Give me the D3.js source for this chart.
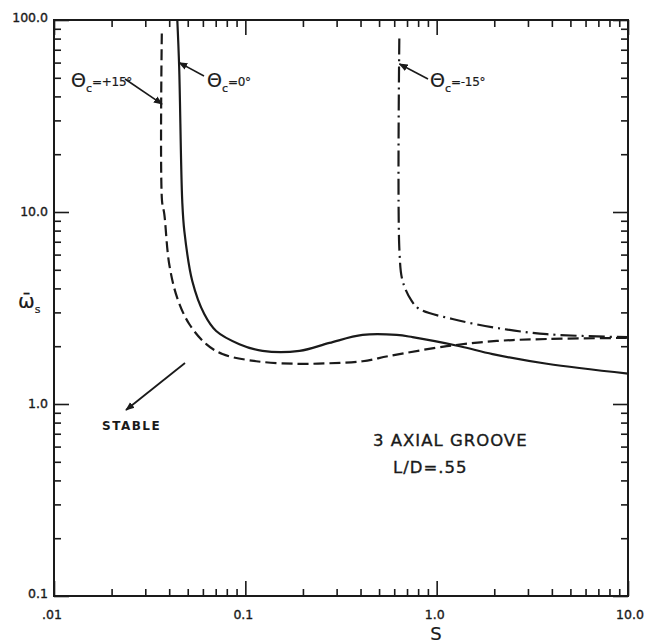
<!DOCTYPE html>
<html>
<head>
<meta charset="utf-8">
<script src="https://cdn.jsdelivr.net/npm/d3@7"></script>
<style>
  body { margin: 0; background: #fff; }
  svg { display: block; }
  .lbl { font-family: 'DejaVu Sans', sans-serif; fill: #1a1a1a; stroke: #1a1a1a; stroke-width: 0.35px; }
  .axis path { stroke: none; }
  .axis line { stroke: #1a1a1a; stroke-width: 1.6px; }
</style>
</head>
<body>
<div id="chart"></div>
<script>
// curves (S, omega_s)
const solidS = [0.0441, 0.0451, 0.0468, 0.048, 0.0528, 0.061, 0.0704, 0.0931, 0.123, 0.192, 0.275, 0.41, 0.618, 0.748, 1.32, 1.96, 3.77, 10];
const solidW = [100, 56.9, 11.4, 7.96, 4.37, 2.94, 2.40, 2.05, 1.89, 1.89, 2.08, 2.29, 2.29, 2.23, 2.0, 1.82, 1.62, 1.44];

const dashedS = [0.0366, 0.0367, 0.0377, 0.040, 0.0441, 0.0509, 0.0625, 0.0759, 0.114, 0.185, 0.275, 0.41, 0.567, 1.13, 2.06, 3.77, 10];
const dashedW = [85, 11.4, 9.77, 5.36, 3.56, 2.61, 2.05, 1.82, 1.67, 1.62, 1.63, 1.67, 1.78, 2.0, 2.13, 2.18, 2.21];

const dashDotS = [0.638, 0.639, 0.664, 0.74, 0.814, 1.21, 2.06, 3.77, 10];
const dashDotW = [80, 6.26, 4.37, 3.44, 3.12, 2.77, 2.49, 2.31, 2.23];

const xTickLabels = ['.01', '0.1', '1.0', '10.0'];
const xMajor = [0.01, 0.1, 1, 10];
const yTickLabels = ['0.1', '1.0', '10.0', '100.0'];
const yMajor = [0.1, 1, 10, 100];

const width = 655, height = 643;
const margin = { top: 20, right: 27, bottom: 47, left: 54 };

const x = d3.scaleLog().domain([0.01, 10]).range([margin.left, width - margin.right]);
const y = d3.scaleLog().domain([0.1, 100]).range([height - margin.bottom, margin.top]);

const svg = d3.select('#chart').append('svg')
  .attr('width', width)
  .attr('height', height);

svg.append('defs').append('marker')
  .attr('id', 'arr')
  .attr('viewBox', '0 0 10 10')
  .attr('refX', 9).attr('refY', 5)
  .attr('markerWidth', 9).attr('markerHeight', 9)
  .attr('markerUnits', 'userSpaceOnUse')
  .attr('orient', 'auto')
  .append('path').attr('d', 'M0,1 L10,5 L0,9 Z').attr('fill', '#1a1a1a');

const isMajor = v => Math.abs(Math.log10(v) - Math.round(Math.log10(v))) < 1e-6;
const xt = x.ticks();
const yt = y.ticks();

// frame
svg.append('rect')
  .attr('x', x.range()[0]).attr('y', y.range()[1])
  .attr('width', x.range()[1] - x.range()[0])
  .attr('height', y.range()[0] - y.range()[1])
  .attr('fill', 'none').attr('stroke', '#1a1a1a').attr('stroke-width', 2);

function sizeTicks(g, sign) {
  g.selectAll('.tick line').each(function(d) {
    const len = isMajor(d) ? 15 : 7;
    const el = d3.select(this);
    if (el.attr('x2') !== null && +el.attr('x2') !== 0) el.attr('x2', sign * len);
    else el.attr('y2', sign * len);
  });
  g.selectAll('.tick text').remove();
}

svg.append('g').attr('class', 'axis')
  .attr('transform', `translate(0,${y.range()[0]})`)
  .call(d3.axisBottom(x).tickValues(xt).tickSize(-7))
  .call(g => sizeTicks(g, -1));
svg.append('g').attr('class', 'axis')
  .attr('transform', `translate(0,${y.range()[1]})`)
  .call(d3.axisTop(x).tickValues(xt).tickSize(-7))
  .call(g => sizeTicks(g, 1));
svg.append('g').attr('class', 'axis')
  .attr('transform', `translate(${x.range()[0]},0)`)
  .call(d3.axisLeft(y).tickValues(yt).tickSize(-7))
  .call(g => sizeTicks(g, 1));
svg.append('g').attr('class', 'axis')
  .attr('transform', `translate(${x.range()[1]},0)`)
  .call(d3.axisRight(y).tickValues(yt).tickSize(-7))
  .call(g => sizeTicks(g, -1));

// tick labels
svg.selectAll('.xlab').data(xMajor).enter().append('text')
  .attr('class', 'lbl')
  .attr('x', d => x(d) + (d === 10 ? 2 : -2))
  .attr('y', y.range()[0] + 23)
  .attr('text-anchor', 'middle')
  .style('font-size', '12.5px')
  .text((d, i) => xTickLabels[i]);

svg.selectAll('.ylab').data(yMajor).enter().append('text')
  .attr('class', 'lbl')
  .attr('x', x.range()[0] - 6)
  .attr('y', d => y(d) + 4 - (d === 0.1 ? 2 : 0) - (d === 100 ? 2 : 0))
  .attr('text-anchor', 'end')
  .style('font-size', '12.5px')
  .text((d, i) => yTickLabels[i]);

// axis titles
svg.append('text').attr('class', 'lbl')
  .attr('x', 436).attr('y', 640)
  .attr('text-anchor', 'middle')
  .style('font-size', '18px')
  .style('stroke-width', '0.2px')
  .text('S');

const yt1 = svg.append('text').attr('class', 'lbl')
  .attr('x', 18).attr('y', 308)
  .style('font-size', '20px')
  .style('stroke-width', '0.2px');
yt1.append('tspan').text('\u03C9\u0304');
yt1.append('tspan').attr('dy', 5).style('font-size', '11px').text('s');

// curves
const line = d3.line()
  .x(d => x(d[0]))
  .y(d => y(d[1]))
  .curve(d3.curveCatmullRom.alpha(0.5));

const series = [
  { s: dashedS, w: dashedW, dash: '11,5' },
  { s: solidS, w: solidW, dash: null },
  { s: dashDotS, w: dashDotW, dash: '16,5,2,5' }
];

svg.selectAll('.curve').data(series).enter().append('path')
  .attr('class', 'curve')
  .attr('d', d => line(d.s.map((v, i) => [v, d.w[i]])))
  .attr('fill', 'none')
  .attr('stroke', '#1a1a1a')
  .attr('stroke-width', 2.2)
  .attr('stroke-dasharray', d => d.dash);

// annotations
function thetaLabel(px, py, val) {
  const t = svg.append('text').attr('class', 'lbl')
    .attr('x', px).attr('y', py)
    .style('font-size', '19px')
    .style('stroke-width', '0.2px');
  t.append('tspan').text('\u0398');
  t.append('tspan').attr('dy', 5).style('font-size', '11px').text('c');
  t.append('tspan').attr('dy', -6).style('font-size', '12px').style('letter-spacing', '-0.3px')
    .text('=' + val + '\u00B0');
}

thetaLabel(71, 87, '+15');
thetaLabel(207, 87, '0');
thetaLabel(430, 87, '-15');

const arrows = [
  [125, 79, 0.0367, 36.5],
  [204, 76, 0.0451, 60],
  [428, 79, 0.639, 59]
];
svg.selectAll('.arrow').data(arrows).enter().append('line')
  .attr('x1', d => d[0]).attr('y1', d => d[1])
  .attr('x2', d => x(d[2])).attr('y2', d => y(d[3]))
  .attr('stroke', '#1a1a1a').attr('stroke-width', 1.6)
  .attr('marker-end', 'url(#arr)');

svg.append('line')
  .attr('x1', 185).attr('y1', 363).attr('x2', 126).attr('y2', 410)
  .attr('stroke', '#1a1a1a').attr('stroke-width', 1.8)
  .attr('marker-end', 'url(#arr)');

svg.append('text').attr('class', 'lbl')
  .attr('x', 102).attr('y', 430)
  .style('font-size', '12px').style('font-weight', 'bold').style('letter-spacing', '1.5px')
  .style('stroke-width', '0px')
  .text('STABLE');

svg.append('text').attr('class', 'lbl')
  .attr('x', 373).attr('y', 446)
  .style('font-size', '16.5px').style('letter-spacing', '1px')
  .text('3 AXIAL GROOVE');
svg.append('text').attr('class', 'lbl')
  .attr('x', 393).attr('y', 473)
  .style('font-size', '16.5px').style('letter-spacing', '1px')
  .text('L/D=.55');
</script>
</body>
</html>
